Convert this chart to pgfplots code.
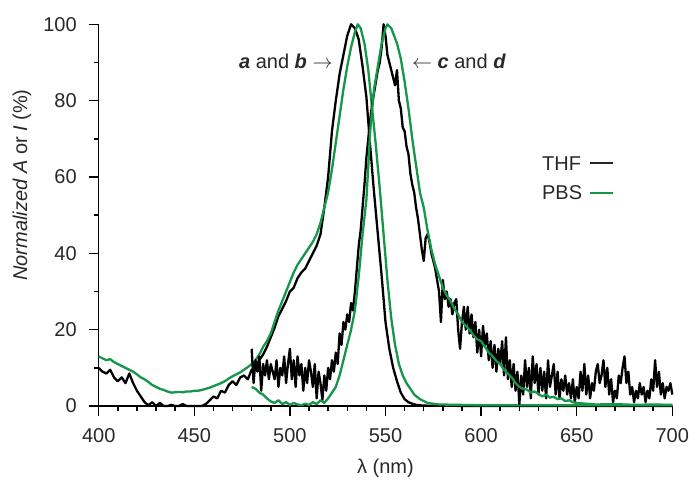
\documentclass[border=0pt]{standalone}
\usepackage{fontspec}
\setmainfont{Liberation Sans}
\usepackage{pgfplots}
\pgfplotsset{compat=1.18}
\definecolor{pbsgreen}{RGB}{22,150,72}
\definecolor{txt}{RGB}{40,40,40}

\begin{document}
\fontsize{10}{12}\selectfont
\begin{tikzpicture}
\begin{axis}[
  scale only axis, width=286.8pt, height=190.85pt,
  xmin=400, xmax=700, ymin=0, ymax=100,
  axis x line=bottom, axis y line=left,
  axis line style={-, line width=0.75pt},
  xtick align=outside, ytick align=outside,
  major tick length=5pt, minor tick length=2.5pt,
  tick style={line width=0.75pt, black},
  xtick={400,450,...,700}, ytick={0,20,...,100},
  minor x tick num=4, minor y tick num=1,
  clip=false,
  /pgf/number format/assume math mode=true,
  ticklabel style={font=\fontsize{10}{12}\selectfont, text=txt},
  yticklabel style={xshift=-2.5pt},
  xticklabel style={yshift=-2.5pt},
  every axis plot/.append style={line width=1.15pt, line join=round},
]
% THF absorption (a)
\addplot[black] coordinates {
(400,10) (402,9) (404,8.5) (406,9.5) (408,7.5) (410,6.5) (412,7.5) (414,6) (416,8.5) (418,6)
(420,4) (422,2.5) (424,1) (426,0.2) (428,1) (430,0) (432,0.8) (434,0) (436,0) (438,0.3)
(440,0) (442,0) (444,0.5) (446,0) (450,0) (454,0) (456,0.5) (458,1.5) (460,2.5) (462,2)
(464,4) (466,3.5) (468,5.5) (470,6.5) (472,5.5) (474,7.5) (476,8) (478,7) (480,9.5) (482,10)
(484,12) (486,13.5) (488,15.5) (490,18) (492,20.5) (494,23.5) (496,25.5) (498,27.5) (500,30)
(502,31) (504,33.5) (506,35) (508,36) (510,38) (512,40) (514,42) (516,45) (518,52) (520,60)
(522,72) (524,80) (526,87) (528,92) (530,97) (532,100) (534,99) (536,96) (538,89) (540,81)
(542,68) (544,56) (546,45) (548,34) (550,22) (552,15) (554,10) (556,6.5) (558,3.5) (560,1.8)
(562,1) (564,0.6) (566,0.3) (570,0.1) (600,0) (700,0)
};
% PBS absorption (b)
\addplot[pbsgreen] coordinates {
(400,13) (402,12.5) (404,12) (406,12.3) (408,11.5) (410,11) (412,10.5) (414,10) (416,9.5)
(418,9) (420,8.3) (422,7.5) (424,7) (426,6.3) (428,5.5) (430,5) (432,4.5) (434,4.2) (436,3.8)
(438,3.5) (440,3.6) (442,3.7) (444,3.6) (446,3.8) (448,3.8) (450,4) (452,4) (454,4.2) (456,4.5)
(458,4.8) (460,5.2) (462,5.6) (464,6) (466,6.5) (468,7.2) (470,7.8) (472,8.3) (474,8.8)
(476,9.5) (478,10.2) (480,11) (482,12) (484,13.5) (486,15.5) (488,17) (490,19) (492,22)
(494,25) (496,27.5) (498,30) (500,32.5) (502,35) (504,37) (506,38.5) (508,40) (510,41.5)
(512,43) (514,45) (516,48) (518,52) (520,56) (522,62) (524,69) (526,76) (528,83) (530,89)
(532,94) (534,98) (535.5,100) (537,99) (539,95) (541,88) (543,78) (545,68) (547,57) (549,45)
(551,33) (553,23) (555,16) (557,11) (559,8) (561,6) (563,4.5) (565,3) (568,1.8) (572,0.8)
(578,0.4) (600,0.2) (700,0.2)
};
% THF emission (c)
\addplot[black] coordinates {
(480,15) (481,6) (482,12) (483,9) (484,13) (485,4) (486,11) (487,8) (488,12) (489,7) (490,11)
(491,9) (492,7) (493,12) (494,5) (495,10) (496,8) (497,13) (498,6) (499,11) (500,15) (501,7)
(502,12) (503,5) (504,13) (505,8) (506,11) (507,4) (508,10) (509,6) (510,12) (511,9) (512,5)
(513,11) (514,2) (515,9) (516,6) (517,1.5) (518,8) (519,4) (520,10) (521,7) (522,12) (523,9)
(524,14) (525,11) (526,19) (527,16) (528,22) (529,20) (530,24) (531,22) (532,27) (533,25)
(534,30) (535,36) (536,42) (537,46) (538,52) (539,58) (540,65) (541,70) (542,75) (543,79)
(544,82) (545,85) (546,88) (547,90) (548,94) (549,100) (550,97) (551,92) (552,90) (553,88)
(554,86) (555,84) (556,88) (557,80) (558,78) (559,73) (560,72) (561,68) (562,66) (563,61)
(564,58) (565,56) (566,52) (567,49) (568,45) (569,41) (570,38) (571,44) (572,45) (573,43)
(574,40) (575,38) (576,36) (577,33) (578,30) (579,22) (580,33) (581,28) (582,30) (583,26)
(584,28) (585,24) (586,27) (587,28) (588,20) (589,15) (590,22) (591,26) (592,20) (593,26)
(594,19) (595,24) (596,18) (597,22) (598,14) (599,20) (600,13) (601,21) (602,16) (603,19)
(604,12) (605,17) (606,10) (607,16) (608,9) (609,15) (610,11) (611,17) (612,8) (613,18)
(614,7) (615,12) (616,5) (617,11) (618,4) (619,9) (620,0.5) (621,8) (622,3) (623,12) (624,5)
(625,10) (626,2) (627,13) (628,6) (629,11) (630,3) (631,10) (632,4) (633,9) (634,2) (635,12)
(636,5) (637,8) (638,11) (639,3) (640,9) (641,2) (642,7) (643,4) (644,8) (645,3) (646,6)
(647,2) (648,7) (649,1) (650,5) (651,2) (652,9) (653,4) (654,11) (655,3) (656,8) (657,2)
(658,6) (659,4) (660,9) (661,11) (662,6) (663,8) (664,12) (665,5) (666,10) (667,3) (668,7)
(669,1) (670,4) (671,2) (672,8) (673,6) (674,10) (675,13) (676,6) (677,9) (678,3) (679,5)
(680,1) (681,4) (682,2) (683,6) (684,3) (685,5) (686,1) (687,4) (688,2) (689,7) (690,4)
(691,12) (692,5) (693,9) (694,3) (695,6) (696,2) (697,5) (698,4) (699,6) (700,3)
};
% PBS emission (d)
\addplot[pbsgreen] coordinates {
(480,5) (482,4.5) (484,3.5) (486,3) (488,2) (490,1.2) (492,0.8) (494,1.5) (496,0.5) (498,1)
(500,0.3) (502,0.8) (504,0.4) (506,0.2) (508,0.6) (510,0.3) (512,1) (514,0.5) (516,1.5)
(518,0.8) (520,2) (522,3.5) (524,5) (526,8) (528,12) (530,16) (532,20) (534,25) (536,34)
(538,45) (540,54) (542,72) (544,83) (546,89) (548,95) (550,99) (551,100) (553,99) (556,95)
(558,91) (560,85) (562,78) (564,70) (566,63) (568,56) (570,52) (572,46) (574,41) (576,37)
(578,34) (580,31) (582,29) (584,27.5) (586,25.5) (588,24) (590,22) (592,21) (594,20)
(596,18.5) (598,17.5) (600,17) (602,15.5) (604,14) (606,13) (608,11.8) (610,11) (612,9.5)
(614,8.5) (616,7.5) (618,6) (620,5) (622,4.5) (624,4.3) (626,3.5) (628,3.8) (630,3.2)
(632,2.5) (634,3) (636,2.2) (638,2.4) (640,1.8) (642,2) (644,1.3) (646,1.5) (648,1)
(650,0.8) (655,0.6) (660,0.4) (670,0.5) (680,0.3) (690,0.4) (700,0.3)
};
% annotations
\node[anchor=east, text=txt, inner sep=0pt] at (522.5,90.2) {\textbf{\textit{a}} and \textbf{\textit{b}} $\rightarrow$};
\node[anchor=west, text=txt, inner sep=0pt] at (563.7,90.2) {$\leftarrow$ \textbf{\textit{c}} and \textbf{\textit{d}}};
\node[anchor=west, text=txt, inner sep=0pt] at (631.7,63.6) {THF};
\node[anchor=west, text=txt, inner sep=0pt] at (631.7,55.8) {PBS};
\draw[line width=1pt, black!85] (657,63.6) -- (668.8,63.6);
\draw[line width=1pt, pbsgreen] (657,55.8) -- (668.8,55.8);
\node[text=txt] at (550,-16.3) {λ (nm)};
\node[rotate=90, text=txt] at (359.8,57.9) {\textit{Normalized A} or \textit{I} (\%)};
\end{axis}
\pgfresetboundingbox
\path[use as bounding box] (-49.35pt,-36.5pt) rectangle ++(347.5pt,239.5pt);
\end{tikzpicture}
\end{document}
